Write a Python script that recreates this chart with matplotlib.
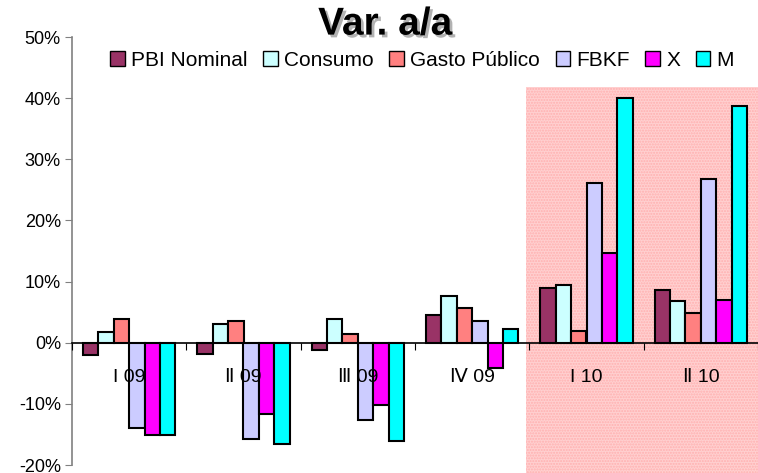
import numpy as np
import matplotlib
matplotlib.use("Agg")
import matplotlib.pyplot as plt
from matplotlib.patches import Rectangle
from matplotlib.ticker import FuncFormatter
import matplotlib.patheffects as pe

plt.rcParams['font.family'] = ['Liberation Sans', 'DejaVu Sans']

quarters = ["I 09", "Ⅱ 09", "Ⅲ 09", "Ⅳ 09", "I 10", "Ⅱ 10"]
series = ["PBI Nominal", "Consumo", "Gasto Público", "FBKF", "X", "M"]
colors = ["#993366", "#CCFFFF", "#FF8080", "#CCCCFF", "#FF00FF", "#00FFFF"]

pbi_nominal = [-2.0, -1.8, -1.2, 4.5, 9.0, 8.7]
consumo = [1.7, 3.1, 3.9, 7.6, 9.4, 6.8]
gasto_publico = [3.9, 3.6, 1.4, 5.6, 1.9, 4.8]
fbkf = [-14.0, -15.8, -12.6, 3.6, 26.1, 26.7]
x_export = [-15.1, -11.7, -10.2, -4.1, 14.7, 7.0]
m_import = [-15.1, -16.5, -16.0, 2.2, 40.1, 38.7]
values = [pbi_nominal, consumo, gasto_publico, fbkf, x_export, m_import]

fig = plt.figure(figsize=(7.58, 4.73), dpi=100)
ax = fig.add_axes([72 / 758, 1 - 465 / 473, 686 / 758, (465 - 37) / 473])

n = len(series)
group_w = 0.81
bar_w = group_w / n
xpos = np.arange(len(quarters))

# shaded 2010 block
ax.add_patch(Rectangle((3.47, -21.5), 3.0, 63.3, facecolor="#ffd0d0",
                       edgecolor="#ffb0b0", hatch="......", linewidth=0,
                       zorder=0, clip_on=False))

for i, (name, vals) in enumerate(zip(series, values)):
    offs = -group_w / 2 + bar_w * (i + 0.5)
    ax.bar(xpos + offs, vals, width=bar_w, color=colors[i], edgecolor="black",
           linewidth=1.5, label=name, zorder=3)

ax.set_xlim(-0.5, len(quarters) - 0.5)
ax.set_ylim(-20, 50)
ax.set_yticks(np.arange(-20, 51, 10))
ax.yaxis.set_major_formatter(FuncFormatter(lambda v, p: f"{int(v)}%"))
ax.tick_params(axis="y", labelsize=13, length=5, color="#808080", pad=3)

for s in ["top", "right"]:
    ax.spines[s].set_visible(False)
ax.spines["left"].set_color("#808080")
ax.spines["left"].set_linewidth(1.2)
ax.spines["bottom"].set_position(("data", 0))
ax.spines["bottom"].set_linewidth(1.2)
ax.spines["bottom"].set_zorder(4)

ax.set_xticks(np.arange(-0.5, len(quarters), 1.0))
ax.set_xticklabels([])
ax.tick_params(axis="x", which="major", length=5, direction="out", color="black")
ax.set_xticks(xpos, minor=True)
ax.set_xticklabels(quarters, minor=True)
ax.tick_params(axis="x", which="minor", length=0, pad=19, labelsize=14)
ax.xaxis.set_zorder(5)

ax.patch.set_alpha(0)

fig.text(0.508, 0.948, "Var. a/a", ha="center", va="center", fontsize=28,
         fontweight="bold",
         path_effects=[pe.SimplePatchShadow(offset=(2, -2), shadow_rgbFace="gray", alpha=0.6),
                       pe.Normal()])

leg = fig.legend(loc="center", bbox_to_anchor=(0.557, 0.873), ncol=6, frameon=False,
                 fontsize=15, handlelength=0.7, handleheight=0.7,
                 handletextpad=0.3, columnspacing=0.75, borderaxespad=0)
for h in leg.legend_handles:
    h.set_linewidth(1.0)

fig.savefig("out.png", dpi=100)
